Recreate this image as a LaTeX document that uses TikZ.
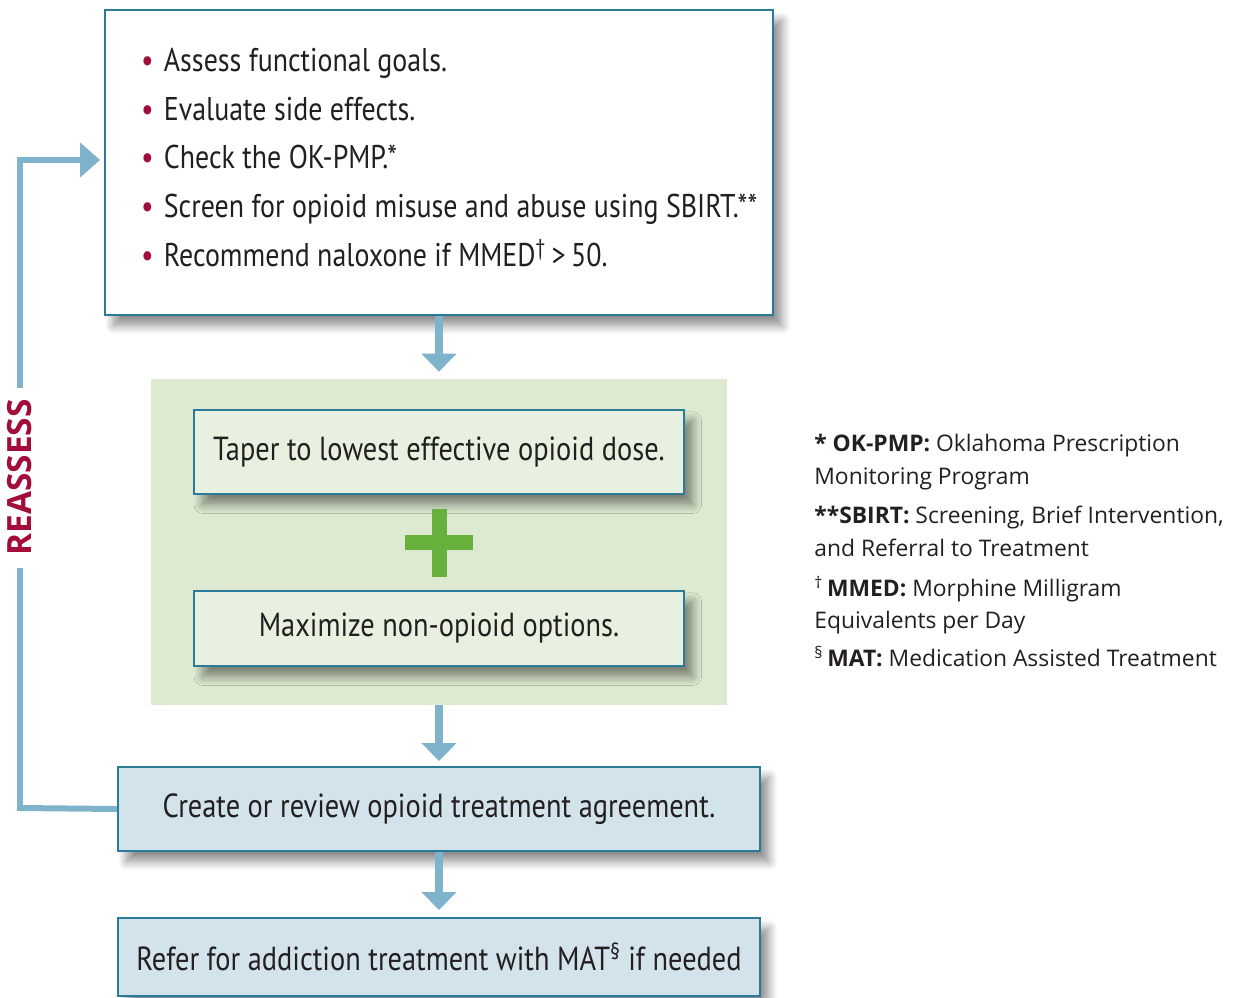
\documentclass[tikz,border=0pt]{standalone}
\usepackage{fontspec}
\setmainfont{Open Sans}
\newfontfamily\condfont[FakeStretch=0.85]{PT Sans}
\usetikzlibrary{arrows.meta,shadows.blur,positioning}
\definecolor{frameteal}{RGB}{42,122,152}
\definecolor{flowblue}{RGB}{127,179,204}
\definecolor{optgreen}{RGB}{221,233,208}
\definecolor{taperfill}{RGB}{232,241,224}
\definecolor{plusgreen}{RGB}{102,176,59}
\definecolor{agreefill}{RGB}{210,227,236}
\definecolor{reassred}{RGB}{163,13,57}
\definecolor{inktext}{RGB}{35,31,32}
\newcommand{\bul}{\hspace*{0.59cm}\makebox[13pt][l]{\textcolor{reassred}{\textbullet}}}

\begin{document}
\begin{tikzpicture}[x=0.02cm, y=-0.02cm,
  stepbox/.style={draw=frameteal, line width=1.1pt, text=inktext,
    font={\condfont\fontsize{19}{23}\selectfont},
    blur shadow={shadow xshift=5pt, shadow yshift=-6pt, shadow blur radius=5pt,
      shadow blur steps=12, shadow opacity=45}},
  flow/.style={draw=flowblue, line width=0.16cm, -{Triangle[width=0.68cm,length=0.36cm]}},
  foot/.style={anchor=north west, inner sep=0pt, align=left, text=inktext,
    font={\fontsize{13}{18.6}\selectfont}}]
\useasboundingbox (0,0) rectangle (1240,997);

% boxes of the flow
\node[stepbox, fill=white, minimum width=13.36cm, minimum height=6.1cm,
  text width=13.1cm, align=flush left, inner xsep=0.13cm,
  font={\condfont\fontsize{18.7}{27.8}\selectfont}] (assess) at (439,162.5)
  {\bul Assess functional goals.\\
   \bul Evaluate side effects.\\
   \bul Check the OK-PMP.*\\
   \bul Screen for opioid misuse and abuse using SBIRT.**\\
   \bul Recommend naloxone if MMED\textsuperscript{\dag}\,>\,50.\par\vspace*{0.2cm}};
\node[fill=optgreen, minimum width=11.52cm, minimum height=6.52cm, inner sep=0pt] (options) at (439,542) {};
\node[stepbox, fill=taperfill, minimum width=9.8cm, minimum height=1.68cm] (taper) at (439,452)
  {Taper to lowest effective opioid dose.};
\node[stepbox, fill=taperfill, minimum width=9.8cm, minimum height=1.5cm] (maximize) at (439,628.5)
  {Maximize non-opioid options.};
\fill[plusgreen] (405,535) rectangle (473,550);
\fill[plusgreen] (431.5,509) rectangle (446.5,577);
\node[stepbox, fill=agreefill, minimum width=12.84cm, minimum height=1.68cm] (agree) at (439,809)
  {Create or review opioid treatment agreement.};
\node[stepbox, fill=agreefill, minimum width=12.84cm, minimum height=1.56cm, anchor=north] (refer) at (439,917)
  {Refer for addiction treatment with MAT\textsuperscript{\S} if needed};

% arrows
\draw[flow, shorten >=0.14cm] (assess) -- (options);
\draw[flow, shorten >=0.1cm] (options) -- (agree);
\draw[flow, shorten >=0.14cm] (agree) -- (refer);

% reassess loop
\coordinate (loopbottom) at (20,808);
\coordinate (looptop) at (20,160);
\coordinate (reenter) at (105,160);
\draw[draw=flowblue, line width=0.12cm, -{Triangle[width=0.68cm,length=0.4cm]}, shorten >=0.1cm]
  (agree.west) -- (loopbottom) -- node[pos=0.51, fill=white, rotate=90, inner xsep=0.24cm, inner ysep=2pt,
  text=reassred, font={\bfseries\fontsize{19}{20}\selectfont}] (reassess) {REASSESS}
  (looptop) -- (reenter);

% footnotes
\node[foot] (fnpmp) at (814,434) {\textbf{* OK-PMP:} Oklahoma Prescription\\Monitoring Program};
\node[foot] (fnsbirt) at (814,506) {\textbf{**SBIRT:} Screening, Brief Intervention,\\and Referral to Treatment};
\node[foot] (fnmmed) at (814,576) {\textsuperscript{\dag}\,\textbf{MMED:} Morphine Milligram\\Equivalents per Day};
\node[foot] (fnmat) at (814,646) {\textsuperscript{\S}\,\textbf{MAT:} Medication Assisted Treatment};
\end{tikzpicture}
\end{document}
